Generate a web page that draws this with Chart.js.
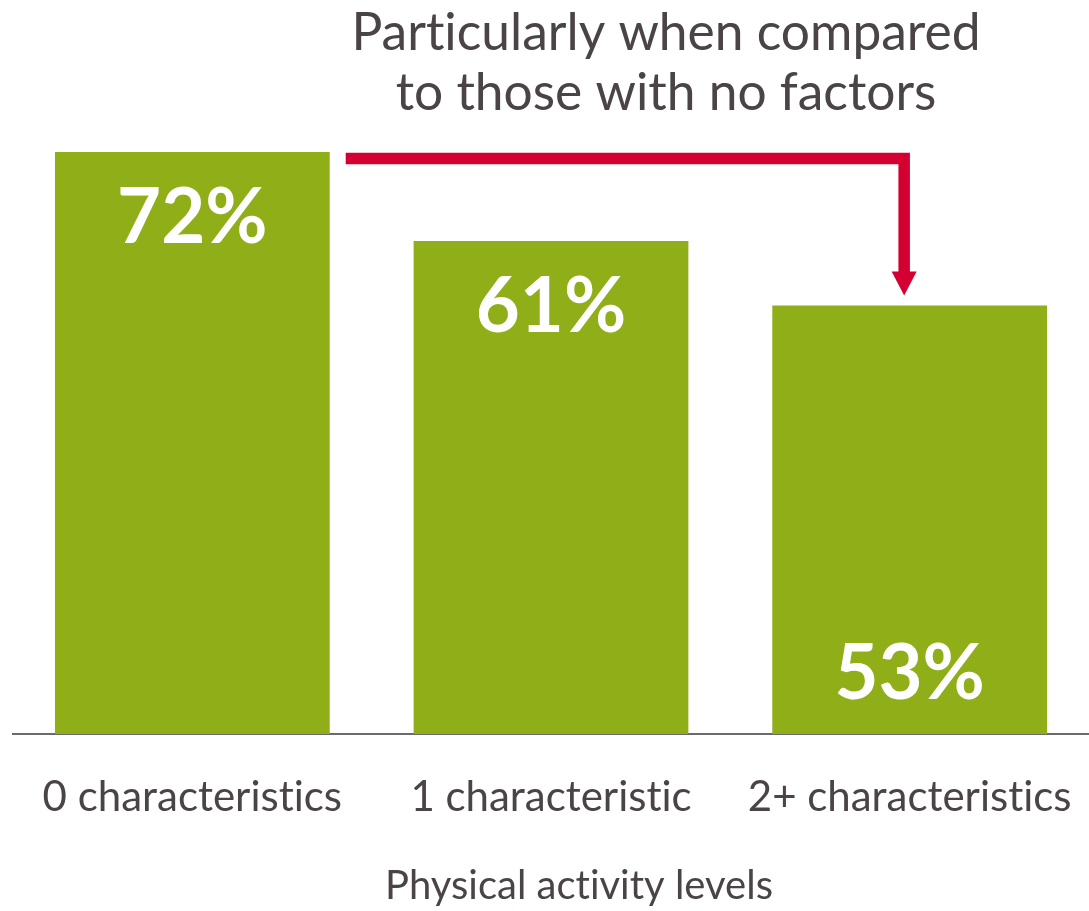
<!DOCTYPE html>
<html>
<head>
<meta charset="utf-8">
<script src="https://cdn.jsdelivr.net/npm/chart.js@4/dist/chart.umd.min.js"></script>
<style>
  html, body { margin: 0; padding: 0; background: #ffffff; }
  #wrap { width: 1089px; height: 911px; position: relative; }
</style>
</head>
<body>
<div id="wrap"><canvas id="chart" width="1089" height="911"></canvas></div>
<script>
// Share of each group, by number of characteristics
const categories = ['0 characteristics', '1 characteristic', '2+ characteristics'];
const values = [72, 61, 53];
const valueLabels = ['72%', '61%', '53%'];
const headline = ['Particularly when compared', 'to those with no factors'];
const axisTitle = 'Physical activity levels';

const GREEN = '#8fae17';
const RED = '#d50032';
const TEXT = '#4a4446';
const LIGHT_FONT = 'Lato, "Noto Sans", sans-serif';
const BOLD_FONT = 'Lato, "Open Sans", sans-serif';

// Where each value label sits inside its bar
const labelAnchor = ['top', 'top', 'bottom'];

// plain glyphs, no "ti" ligature
const plainText = {
  id: 'plainText',
  beforeDraw(chart) {
    chart.ctx.textRendering = 'optimizeSpeed';
  }
};

const overlay = {
  id: 'overlay',
  afterDatasetsDraw(chart) {
    const ctx = chart.ctx;
    const meta = chart.getDatasetMeta(0);
    const y = chart.scales.y;

    // value labels inside bars
    ctx.save();
    ctx.fillStyle = '#ffffff';
    ctx.font = 'bold 76px ' + BOLD_FONT;
    ctx.textAlign = 'center';
    ctx.textBaseline = 'alphabetic';
    meta.data.forEach((bar, i) => {
      const ly = labelAnchor[i] === 'top' ? bar.y + 91 : bar.base - 35;
      ctx.fillText(valueLabels[i], bar.x, ly);
    });
    ctx.restore();

    // elbow arrow from the first bar down onto the last
    const first = meta.data[0];
    const last = meta.data[meta.data.length - 1];
    const lineY = y.getPixelForValue(values[0]) + 6.5;
    const startX = first.x + first.width / 2 + 16;
    const endX = last.x - 5.5;
    const tipY = last.y - 10;
    ctx.save();
    ctx.strokeStyle = RED;
    ctx.fillStyle = RED;
    ctx.lineWidth = 11.5;
    ctx.lineCap = 'butt';
    ctx.lineJoin = 'miter';
    ctx.beginPath();
    ctx.moveTo(startX, lineY);
    ctx.lineTo(endX, lineY);
    ctx.lineTo(endX, tipY - 22);
    ctx.stroke();
    ctx.beginPath();
    ctx.moveTo(endX - 12.5, tipY - 24);
    ctx.lineTo(endX + 12.5, tipY - 24);
    ctx.lineTo(endX, tipY);
    ctx.closePath();
    ctx.fill();
    ctx.restore();

    // headline and axis title
    ctx.save();
    ctx.fillStyle = TEXT;
    ctx.font = '51.5px ' + LIGHT_FONT;
    ctx.textAlign = 'center';
    ctx.textBaseline = 'alphabetic';
    ctx.fillText(headline[0], 666, 50);
    ctx.fillText(headline[1], 666, 110);
    ctx.font = '40px ' + LIGHT_FONT;
    ctx.fillText(axisTitle, 579, 899);
    ctx.restore();
  }
};

new Chart(document.getElementById('chart'), {
  type: 'bar',
  data: {
    labels: categories,
    datasets: [{
      data: values,
      backgroundColor: GREEN,
      borderWidth: 0,
      barPercentage: 0.766,
      categoryPercentage: 1
    }]
  },
  options: {
    responsive: false,
    animation: false,
    devicePixelRatio: 1,
    layout: { padding: { left: 13, right: 0, top: 152, bottom: 0 } },
    plugins: { legend: { display: false }, tooltip: { enabled: false }, title: { display: false } },
    scales: {
      y: { display: false, min: 0, max: 72 },
      x: {
        grid: { display: false, drawTicks: false },
        border: { display: true, color: '#6b6b6b', width: 2 },
        ticks: { color: TEXT, font: { family: LIGHT_FONT, size: 42 }, padding: 38, maxRotation: 0, autoSkip: false },
        afterFit(scale) {
          scale.height = 177;
          scale.paddingLeft = 0;
          scale.paddingRight = 0;
        }
      }
    }
  },
  plugins: [plainText, overlay]
});
</script>
</body>
</html>
